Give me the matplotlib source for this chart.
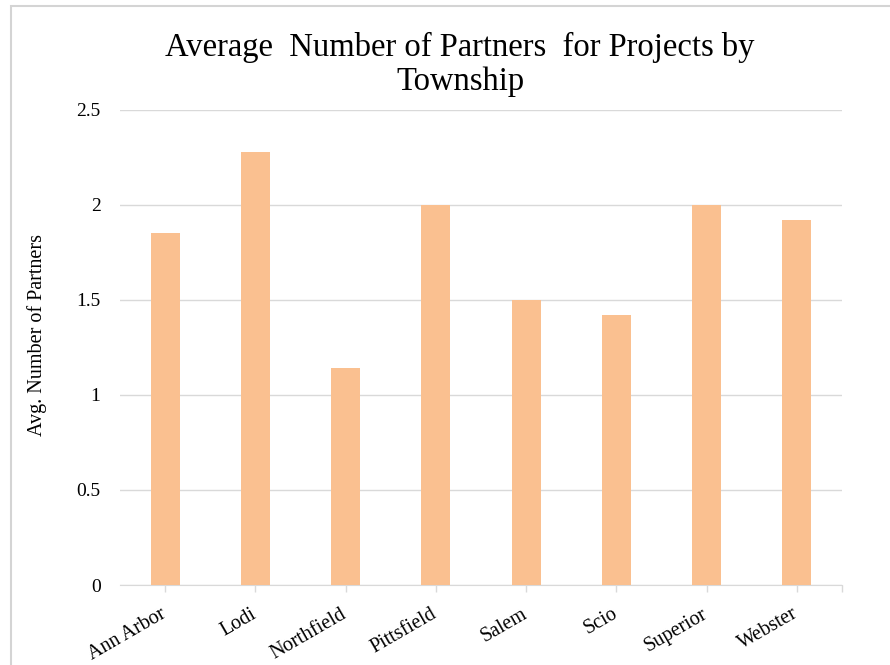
import matplotlib.pyplot as plt
import matplotlib.transforms as mtransforms
from matplotlib.patches import Rectangle

townships = ["Ann Arbor", "Lodi", "Northfield", "Pittsfield", "Salem", "Scio", "Superior", "Webster"]
avg_partners = [1.85, 2.28, 1.14, 2.0, 1.5, 1.42, 2.0, 1.92]
y_ticks = [0, 0.5, 1, 1.5, 2, 2.5]
y_tick_labels = ["0", "0.5", "1", "1.5", "2", "2.5"]

plt.rcParams['font.family'] = ['Liberation Serif', 'DejaVu Serif']

fig = plt.figure(figsize=(8.9, 6.65), dpi=100)
ax = fig.add_axes([0.1348, 0.1203, 0.8112, 0.7143])

# light frame around the chart (left and top edges visible)
fig.patches.append(Rectangle((11 / 890, -0.1), 1.2, 1 - 6 / 665 + 0.1,
                             transform=fig.transFigure, fill=False,
                             edgecolor="#D4D4D4", linewidth=1.5))

x = range(len(townships))
ax.bar(x, avg_partners, width=0.32, color="#FAC090", zorder=3)

ax.set_xlim(-0.5, len(townships) - 0.5)
ax.set_ylim(0, 2.5)
ax.set_yticks(y_ticks)
ax.set_yticklabels(y_tick_labels, fontsize=14)
ax.yaxis.grid(True, color="#D9D9D9", linewidth=1, zorder=0)
ax.tick_params(axis="y", length=0, pad=14)

ax.set_xticks(list(x))
ax.set_xticklabels(townships, rotation=30, ha="right", rotation_mode="anchor", fontsize=14.5)
ax.set_xticks([len(townships) - 0.5], minor=True)
ax.tick_params(axis="x", which="both", length=5, color="#D9D9D9", width=1, pad=9)
# nudge tick labels a little to the left, like the original
shift = mtransforms.ScaledTranslation(-5 / 100, 0, fig.dpi_scale_trans)
for lbl in ax.get_xticklabels():
    lbl.set_transform(lbl.get_transform() + shift)

for side in ["left", "right", "top"]:
    ax.spines[side].set_visible(False)
ax.spines["bottom"].set_color("#D9D9D9")

ax.set_ylabel("Avg. Number of Partners", fontsize=14.5)
ax.yaxis.set_label_coords(-0.101, 0.526)
fig.suptitle("Average  Number of Partners  for Projects by\nTownship",
             fontsize=23.5, x=0.517, y=0.952, linespacing=1.15)

plt.savefig("out.png", dpi=100)
plt.close()
